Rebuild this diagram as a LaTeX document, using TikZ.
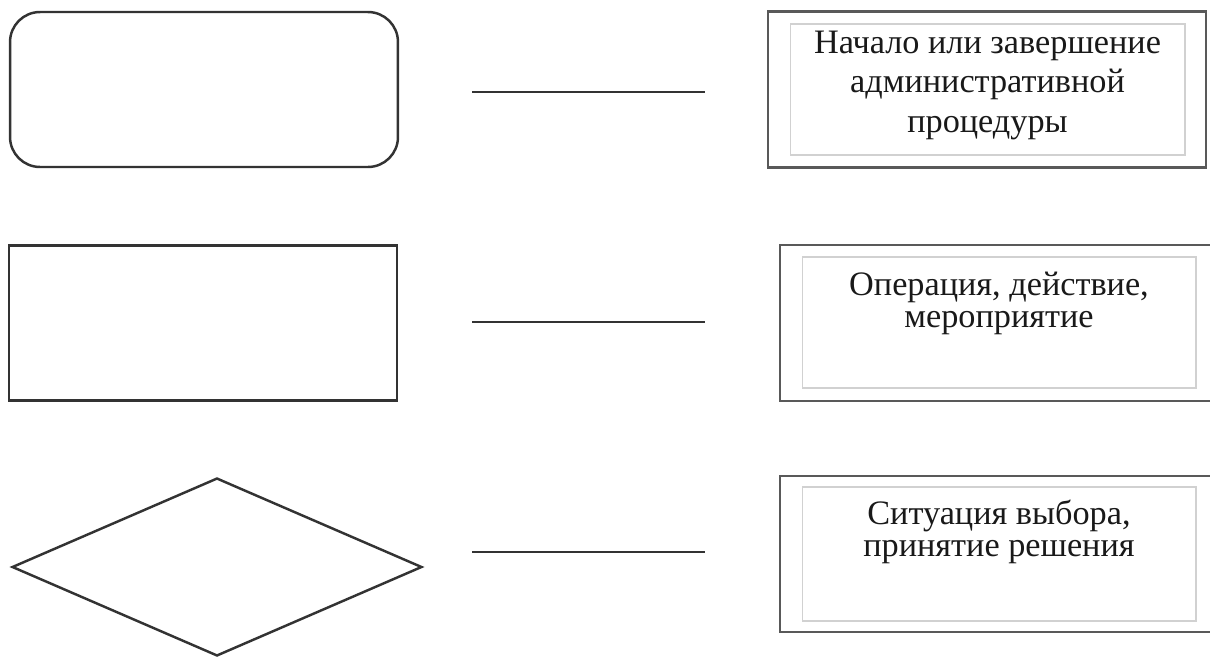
\documentclass[tikz,border=0pt]{standalone}
\usepackage{fontspec}
\setmainfont{Liberation Serif}
\usetikzlibrary{positioning,shapes.geometric}
\tikzset{
symb/.style={
  draw=black!80,
  line width=1.4pt,
  inner sep=0pt,
  minimum width=7.76cm,
  minimum height=3.1cm
  },
link/.style={
  draw=black!80,
  line width=1.4pt
  },
outbox/.style={
  draw=black!65,
  line width=1.6pt,
  inner sep=0pt,
  minimum width=#1,
  minimum height=3.12cm
  },
inbox/.style={
  draw=black!18,
  line width=0.6pt,
  inner sep=0pt,
  minimum width=7.88cm,
  minimum height=#1
  },
legtext/.style={
  inner sep=0pt,
  align=center,
  text=black!90
  }
}

\begin{document}
\begin{tikzpicture}[x=0.02cm,y=-0.02cm]
            \useasboundingbox (0,0) rectangle (1210,656);
            % symbols
            \node[symb,rounded corners=0.6cm] (start) at (204,89.5) {};
            \node[symb] (oper) at (203,323) {};
            \node[symb,diamond,minimum width=8.2cm,minimum height=3.56cm] (choice) at (217,567) {};
            % dashes between symbol and meaning
            \coordinate (d1a) at (472,92);
            \coordinate (d1b) at (705,92);
            \coordinate (d2a) at (472,322);
            \coordinate (d2b) at (705,322);
            \coordinate (d3a) at (472,552);
            \coordinate (d3b) at (705,552);
            \draw[link] (d1a) -- (d1b);
            \draw[link] (d2a) -- (d2b);
            \draw[link] (d3a) -- (d3b);
            % meanings
            \node[outbox=8.76cm] (out1) at (987,89.5) {};
            \node[inbox=2.62cm,minimum width=7.9cm] (in1) at (987.5,89.5) {};
            \node[legtext,font=\fontsize{19.5}{22.5}\selectfont,below=0.14cm of in1.north] (txt1)
                {Начало или завершение\\административной\\процедуры};
            \node[outbox=8.68cm] (out2) at (997,323) {};
            \node[inbox=2.62cm] (in2) at (999,322.5) {};
            \node[legtext,font=\fontsize{19.5}{18.5}\selectfont,below=0.3cm of in2.north] (txt2)
                {Операция, действие,\\мероприятие};
            \node[outbox=8.68cm] (out3) at (997,554) {};
            \node[inbox=2.68cm] (in3) at (999,554) {};
            \node[legtext,font=\fontsize{19.5}{18.5}\selectfont,below=0.26cm of in3.north] (txt3)
                {Ситуация выбора,\\принятие решения};
        \end{tikzpicture}
\end{document}
